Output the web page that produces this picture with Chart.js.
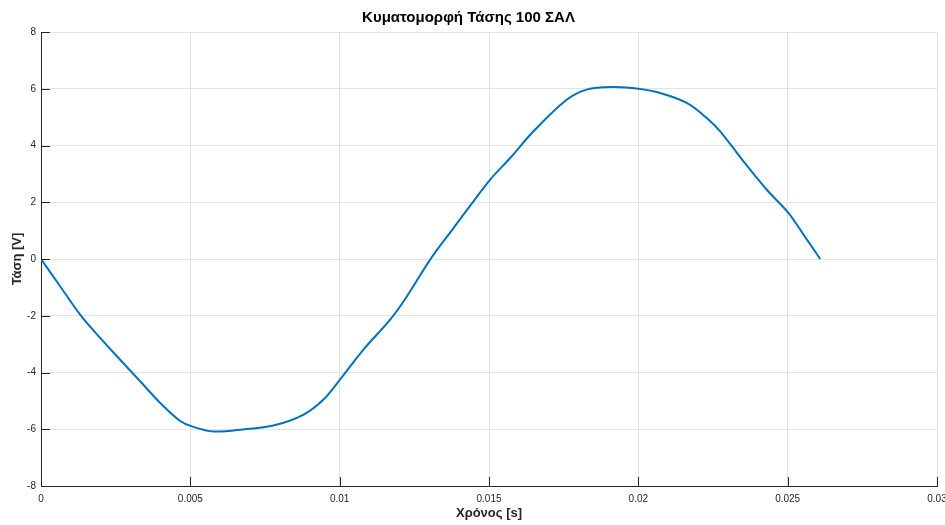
<!DOCTYPE html>
<html>
<head>
<meta charset="utf-8">
<script src="https://cdn.jsdelivr.net/npm/chart.js@4"></script>
<style>
  html, body { margin: 0; padding: 0; background: #fff; }
  #wrap { width: 945px; height: 525px; position: relative; }
</style>
</head>
<body>
<div id="wrap"><canvas id="c"></canvas></div>
<script>
// time [s] and voltage [V]
var timeS = [0, 0.00064, 0.00131, 0.00198, 0.00265, 0.00332, 0.00399, 0.00465, 0.00505, 0.00577,
  0.00689, 0.00778, 0.00878, 0.00945, 0.01001, 0.01079, 0.01169, 0.01225, 0.01303, 0.01381,
  0.01448, 0.01504, 0.01571, 0.01649, 0.0176, 0.01827, 0.01916, 0.02, 0.02073, 0.02162,
  0.02229, 0.02274, 0.02352, 0.0243, 0.02503, 0.02553, 0.02609];
var voltV = [0, -0.96, -1.96, -2.78, -3.55, -4.31, -5.07, -5.70, -5.90, -6.08,
  -5.99, -5.87, -5.49, -4.96, -4.25, -3.20, -2.14, -1.32, -0.02, 1.09,
  2.03, 2.80, 3.56, 4.50, 5.61, 5.97, 6.06, 6.00, 5.85, 5.50,
  4.97, 4.50, 3.44, 2.44, 1.62, 0.86, 0];
var xTicks = [0, 0.005, 0.01, 0.015, 0.02, 0.025, 0.03];
var yTicks = [-8, -6, -4, -2, 0, 2, 4, 6, 8];

var axisColor = '#262626';
var gridColor = '#e3e3e3';

Chart.defaults.font.family = '"Liberation Sans", Arial, sans-serif';
Chart.defaults.color = axisColor;

var points = timeS.map(function (t, i) { return { x: t, y: voltV[i] }; });

// MATLAB-style ticks pointing into the plot area
var innerTicks = {
  id: 'innerTicks',
  afterDraw: function (chart) {
    var ctx = chart.ctx, a = chart.chartArea;
    var xs = chart.scales.x, ys = chart.scales.y;
    ctx.save();
    ctx.strokeStyle = axisColor;
    ctx.lineWidth = 1;
    ctx.beginPath();
    xTicks.forEach(function (v) {
      var px = Math.round(xs.getPixelForValue(v)) + 0.5;
      ctx.moveTo(px, a.bottom);
      ctx.lineTo(px, a.bottom - 9);
    });
    yTicks.forEach(function (v) {
      var py = Math.round(ys.getPixelForValue(v)) + 0.5;
      ctx.moveTo(a.left, py);
      ctx.lineTo(a.left + 9, py);
    });
    ctx.stroke();
    ctx.restore();
  }
};

new Chart(document.getElementById('c'), {
  type: 'scatter',
  data: {
    datasets: [{
      data: points,
      showLine: true,
      borderColor: '#0072BD',
      borderWidth: 2,
      pointRadius: 0,
      tension: 0.35,
      fill: false,
    }],
  },
  options: {
    responsive: true, maintainAspectRatio: false,
    animation: false,
    layout: { autoPadding: false, padding: { left: 0, right: 8, top: 0, bottom: 0 } },
    plugins: {
      legend: { display: false },
      tooltip: { enabled: false },
      title: {
        display: true,
        text: 'Κυματομορφή Τάσης 100 ΣΑΛ',
        color: '#000',
        font: { size: 15, weight: 'bold' },
        padding: { top: 9, bottom: 5 },
      },
    },
    scales: {
      x: {
        type: 'linear', min: 0, max: 0.03,
        afterFit: function (s) { s.height = 39; s.paddingLeft = 0; s.paddingRight = 0; },
        afterBuildTicks: function (s) { s.ticks = xTicks.map(function (v) { return { value: v }; }); },
        grid: { color: gridColor, drawTicks: false },
        border: { color: axisColor, width: 1 },
        ticks: {
          padding: 7, color: axisColor, font: { size: 10 }, maxRotation: 0,
          callback: function (v) { return String(Number(v.toFixed(3))); },
        },
        title: {
          display: true, text: 'Χρόνος [s]', color: axisColor,
          font: { size: 13, weight: 'bold' }, padding: { top: 0, bottom: 4 },
        },
      },
      y: {
        type: 'linear', min: -8, max: 8,
        afterFit: function (s) { s.width = 41; s.paddingTop = 0; s.paddingBottom = 0; },
        afterBuildTicks: function (s) { s.ticks = yTicks.map(function (v) { return { value: v }; }); },
        grid: { color: gridColor, drawTicks: false },
        border: { color: axisColor, width: 1 },
        ticks: { padding: 5, color: axisColor, font: { size: 10 } },
        title: {
          display: true, text: 'Τάση [V]', color: axisColor,
          font: { size: 13, weight: 'bold' }, padding: { top: 10, bottom: 0 },
        },
      },
    },
  },
  plugins: [innerTicks],
});
</script>
</body>
</html>
